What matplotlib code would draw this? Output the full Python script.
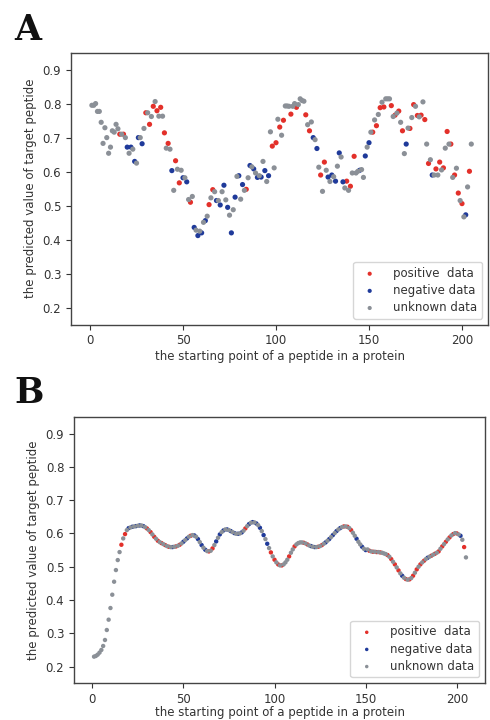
import matplotlib
matplotlib.use("Agg")
import matplotlib.pyplot as plt
import numpy as np

# ---------------- data ----------------
positions = list(range(1, 206))

# Panel A values (x = 1..205)
values_a = [
    0.795, 0.795, 0.800, 0.777, 0.777, 0.745, 0.683, 0.729, 0.700, 0.654,
    0.672, 0.720, 0.716, 0.739, 0.726, 0.710, 0.710, 0.710, 0.700, 0.672,
    0.654, 0.672, 0.666, 0.630, 0.625, 0.700, 0.700, 0.682, 0.727, 0.773,
    0.773, 0.739, 0.762, 0.792, 0.806, 0.779, 0.763, 0.789, 0.763, 0.714,
    0.669, 0.683, 0.666, 0.603, 0.545, 0.632, 0.607, 0.567, 0.604, 0.582,
    0.582, 0.570, 0.518, 0.510, 0.527, 0.436, 0.428, 0.412, 0.425, 0.420,
    0.451, 0.456, 0.469, 0.503, 0.523, 0.547, 0.541, 0.515, 0.515, 0.502,
    0.541, 0.560, 0.517, 0.495, 0.472, 0.420, 0.488, 0.525, 0.586, 0.588,
    0.519, 0.562, 0.545, 0.548, 0.582, 0.618, 0.614, 0.608, 0.596, 0.583,
    0.588, 0.584, 0.630, 0.603, 0.571, 0.588, 0.717, 0.675, 0.611, 0.685,
    0.754, 0.731, 0.707, 0.751, 0.793, 0.793, 0.792, 0.769, 0.792, 0.800,
    0.789, 0.797, 0.814, 0.809, 0.807, 0.767, 0.738, 0.720, 0.746, 0.700,
    0.694, 0.668, 0.613, 0.590, 0.542, 0.628, 0.604, 0.584, 0.571, 0.590,
    0.585, 0.572, 0.616, 0.655, 0.643, 0.570, 0.552, 0.572, 0.545, 0.557,
    0.596, 0.645, 0.596, 0.601, 0.604, 0.606, 0.583, 0.646, 0.672, 0.685,
    0.716, 0.716, 0.752, 0.735, 0.768, 0.788, 0.804, 0.790, 0.814, 0.814,
    0.814, 0.794, 0.762, 0.766, 0.772, 0.778, 0.745, 0.720, 0.653, 0.681,
    0.728, 0.727, 0.759, 0.797, 0.792, 0.765, 0.761, 0.766, 0.805, 0.753,
    0.681, 0.624, 0.635, 0.590, 0.590, 0.608, 0.590, 0.628, 0.605, 0.611,
    0.669, 0.718, 0.681, 0.681, 0.583, 0.590, 0.610, 0.537, 0.515, 0.506,
    0.467, 0.473, 0.555, 0.601, 0.681,
]

# class of each peptide: 'p' positive, 'n' negative, 'u' unknown
classes = [
    "u", "u", "u", "u", "u", "u", "u", "u", "u", "u",
    "u", "u", "u", "u", "u", "p", "u", "p", "u", "n",
    "u", "n", "u", "n", "u", "n", "u", "n", "u", "p",
    "u", "p", "u", "p", "u", "p", "u", "p", "u", "p",
    "u", "p", "u", "n", "u", "p", "u", "p", "u", "n",
    "u", "n", "u", "p", "u", "n", "u", "n", "u", "n",
    "u", "n", "u", "p", "u", "p", "u", "n", "u", "n",
    "u", "n", "u", "n", "u", "n", "u", "n", "u", "n",
    "u", "n", "u", "p", "u", "n", "u", "n", "u", "n",
    "u", "n", "u", "n", "u", "n", "u", "p", "u", "p",
    "u", "p", "u", "p", "u", "u", "u", "p", "u", "u",
    "p", "u", "u", "u", "u", "p", "u", "p", "u", "n",
    "u", "n", "u", "p", "u", "p", "u", "n", "u", "n",
    "u", "n", "u", "n", "u", "n", "u", "p", "u", "p",
    "u", "p", "u", "u", "n", "u", "u", "n", "u", "n",
    "u", "p", "u", "p", "u", "p", "u", "p", "u", "u",
    "u", "p", "u", "p", "u", "p", "u", "p", "u", "n",
    "u", "p", "u", "p", "u", "p", "u", "p", "u", "p",
    "u", "p", "u", "n", "u", "p", "u", "p", "u", "p",
    "u", "p", "u", "p", "u", "p", "u", "p", "u", "p",
    "u", "n", "u", "p", "u",
]

# Panel B values (x = 1..205)
values_b = [
    0.230, 0.232, 0.236, 0.242, 0.250, 0.262, 0.280, 0.310, 0.341, 0.376,
    0.416, 0.455, 0.490, 0.520, 0.544, 0.566, 0.585, 0.598, 0.610, 0.616,
    0.618, 0.620, 0.621, 0.622, 0.623, 0.624, 0.624, 0.622, 0.619, 0.615,
    0.610, 0.604, 0.597, 0.590, 0.584, 0.578, 0.574, 0.571, 0.568, 0.565,
    0.562, 0.560, 0.559, 0.559, 0.560, 0.561, 0.563, 0.566, 0.570, 0.575,
    0.580, 0.585, 0.590, 0.593, 0.595, 0.594, 0.590, 0.583, 0.574, 0.565,
    0.557, 0.551, 0.547, 0.546, 0.548, 0.555, 0.565, 0.576, 0.587, 0.597,
    0.604, 0.609, 0.612, 0.612, 0.610, 0.607, 0.604, 0.601, 0.599, 0.599,
    0.600, 0.603, 0.608, 0.615, 0.622, 0.628, 0.632, 0.634, 0.633, 0.630,
    0.625, 0.617, 0.607, 0.595, 0.583, 0.569, 0.556, 0.543, 0.531, 0.521,
    0.513, 0.507, 0.504, 0.504, 0.507, 0.513, 0.521, 0.531, 0.542, 0.552,
    0.561, 0.567, 0.571, 0.573, 0.573, 0.572, 0.570, 0.567, 0.564, 0.562,
    0.560, 0.559, 0.559, 0.560, 0.562, 0.565, 0.569, 0.573, 0.578, 0.583,
    0.589, 0.595, 0.601, 0.607, 0.612, 0.616, 0.619, 0.621, 0.621, 0.620,
    0.616, 0.610, 0.602, 0.593, 0.584, 0.575, 0.567, 0.560, 0.554, 0.550,
    0.552, 0.548, 0.546, 0.545, 0.545, 0.544, 0.544, 0.543, 0.542, 0.540,
    0.538, 0.535, 0.530, 0.523, 0.515, 0.507, 0.498, 0.489, 0.480, 0.473,
    0.467, 0.463, 0.461, 0.462, 0.466, 0.473, 0.482, 0.492, 0.500, 0.507,
    0.513, 0.518, 0.523, 0.527, 0.530, 0.533, 0.536, 0.539, 0.542, 0.546,
    0.554, 0.561, 0.568, 0.575, 0.582, 0.588, 0.594, 0.598, 0.601, 0.600,
    0.597, 0.593, 0.581, 0.559, 0.528,
]

class_names = ["p", "n", "u"]
legend_labels = ["positive  data", "negative data", "unknown data"]
class_colors = ["#e3302a", "#1f3a9a", "#8b9097"]

x_ticks = [0, 50, 100, 150, 200]
y_ticks = [0.2, 0.3, 0.4, 0.5, 0.6, 0.7, 0.8, 0.9]
x_label = "the starting point of a peptide in a protein"
y_label = "the predicted value of target peptide"

# ---------------- plot ----------------
plt.rcParams["font.family"] = ["DejaVu Sans"]
fig = plt.figure(figsize=(4.9, 7.2), dpi=100)

ax_a = fig.add_axes([0.145, 0.549, 0.851, 0.378])
ax_b = fig.add_axes([0.151, 0.051, 0.839, 0.370])

pos = np.array(positions)
cls = np.array(classes)


def draw(ax, vals, size, xlim, xpad):
    vals = np.array(vals)
    for name, lab, col in zip(class_names, legend_labels, class_colors):
        m = cls == name
        ax.scatter(pos[m], vals[m], s=size, c=col, edgecolors="none", label=lab,
                   zorder=3)
    ax.set_xlim(*xlim)
    ax.set_ylim(0.15, 0.95)
    ax.set_xticks(x_ticks)
    ax.set_yticks(y_ticks)
    ax.set_yticklabels([f"{t:.1f}" for t in y_ticks])
    ax.tick_params(labelsize=8.5, colors="#333333", length=3.5, width=0.8)
    for sp in ax.spines.values():
        sp.set_color("#444444")
        sp.set_linewidth(1.0)
    ax.set_xlabel(x_label, fontsize=8.5, color="#333333", labelpad=xpad)
    ax.set_ylabel(y_label, fontsize=8.5, color="#333333", labelpad=4)
    leg = ax.legend(loc="lower right", fontsize=8.5, markerscale=0.8,
                    handletextpad=1.0, borderpad=0.4, labelspacing=0.35,
                    framealpha=0.8, edgecolor="#cccccc", fancybox=True)
    for t in leg.get_texts():
        t.set_color("#333333")


draw(ax_a, values_a, 14, (-10.2, 214), 2)
draw(ax_b, values_b, 10, (-10, 215.5), 0)

fig.text(0.03, 0.945, "A", fontsize=25, fontweight="bold", family="DejaVu Serif",
         color="#111111")
fig.text(0.03, 0.44, "B", fontsize=25, fontweight="bold", family="DejaVu Serif",
         color="#111111")

fig.savefig("out.png", dpi=100)
